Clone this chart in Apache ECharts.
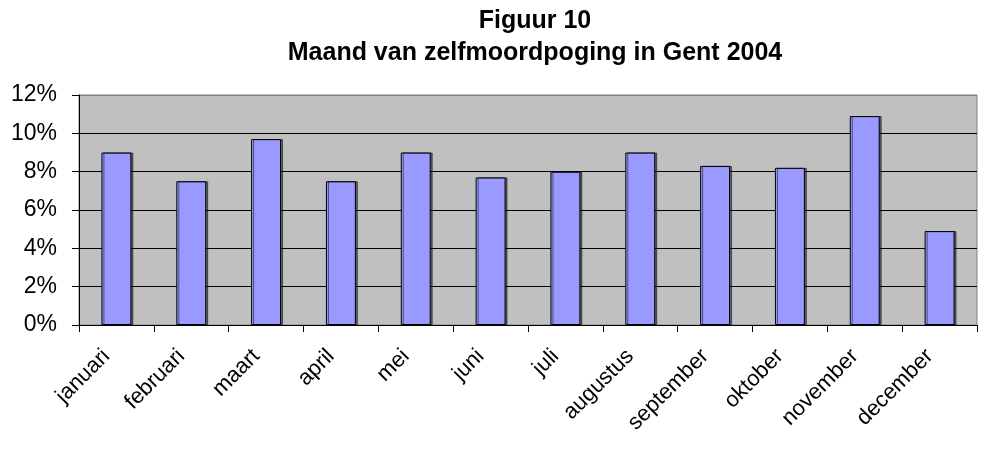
<!DOCTYPE html>
<html>
<head>
<meta charset="utf-8">
<script src="https://cdn.jsdelivr.net/npm/echarts@6/dist/echarts.min.js"></script>
<style>html,body{margin:0;padding:0;background:#fff}#c{width:989px;height:450px}</style>
</head>
<body>
<div id="c"></div>
<script>
const categories = ['januari','februari','maart','april','mei','juni','juli','augustus','september','oktober','november','december'];
const values = [9.0, 7.5, 9.7, 7.5, 9.0, 7.7, 8.0, 9.0, 8.3, 8.2, 10.9, 4.9];
const yTicks = [0, 2, 4, 6, 8, 10, 12];
const titleLines = ['Figuur 10', 'Maand van zelfmoordpoging in Gent 2004'];

const chart = echarts.init(document.getElementById('c'), null, {renderer: 'canvas'});
chart.setOption({
  animation: false,
  backgroundColor: '#fff',
  title: {
    text: titleLines.join('\n'),
    left: 530, top: 0, textAlign: 'center',
    textStyle: {fontFamily: 'Liberation Sans, Arial', fontWeight: 'bold', fontSize: 25, lineHeight: 32, color: '#000'}
  },
  grid: {left: 79, right: 12, top: 95, bottom: 125, show: true, backgroundColor: '#C0C0C0', borderColor: '#808080', borderWidth: 1},
  xAxis: {
    type: 'category', data: categories, boundaryGap: true,
    axisLine: {lineStyle: {color: '#000', width: 1}},
    axisTick: {show: true, alignWithLabel: false, length: 7, lineStyle: {color: '#000'}},
    axisLabel: {rotate: 45, margin: 18, padding: [0, 14, 0, 0], fontFamily: 'Liberation Sans, Arial', fontSize: 22, color: '#000'}
  },
  yAxis: {
    type: 'value', min: yTicks[0], max: yTicks[yTicks.length-1], interval: 2,
    axisLine: {show: true, lineStyle: {color: '#000', width: 1}},
    axisTick: {show: true, length: 7, lineStyle: {color: '#000'}},
    axisLabel: {formatter: v => v + '%', margin: 22, fontFamily: 'Liberation Sans, Arial', fontSize: 23, color: '#000'},
    splitLine: {show: true, lineStyle: {color: ['#000','#000','#000','#000','#000','#000','#808080'], width: 1}}
  },
  series: [{
    type: 'bar', data: values, barCategoryGap: '60%',
    itemStyle: {color: '#9999FF', borderColor: '#000', borderWidth: 1, shadowColor: 'rgba(0,0,0,0.5)', shadowOffsetX: 2, shadowOffsetY: 0, shadowBlur: 0}
  }]
});
</script>
</body>
</html>
